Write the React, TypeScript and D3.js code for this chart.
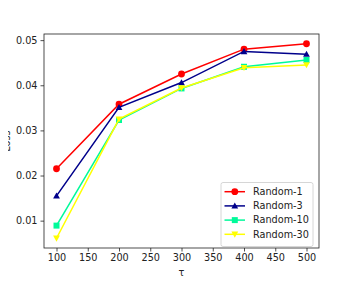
import React, { useEffect, useRef } from "react";
import * as d3 from "d3";

const taus = [100, 200, 300, 400, 500];
const random1 = [0.0215, 0.0358, 0.0425, 0.048, 0.0492];
const random3 = [0.0155, 0.0351, 0.0406, 0.0475, 0.0469];
const random10 = [0.0089, 0.0323, 0.0393, 0.0441, 0.0456];
const random30 = [0.0061, 0.0325, 0.0394, 0.0439, 0.0445];
const seriesNames = ["Random-1", "Random-3", "Random-10", "Random-30"];
const xTicks = [100, 150, 200, 250, 300, 350, 400, 450, 500];
const yTicks = [0.01, 0.02, 0.03, 0.04, 0.05];

const colors = ["#ff0000", "#00008b", "#00fa9a", "#ffff00"];
const shapes = ["circle", "triUp", "square", "triDown"];

function markerPath(shape: string, cx: number, cy: number) {
  const r = 3.4;
  if (shape === "circle") {
    return `M${cx - r},${cy}a${r},${r} 0 1,0 ${2 * r},0a${r},${r} 0 1,0 ${-2 * r},0Z`;
  }
  if (shape === "square") {
    const s = 3;
    return `M${cx - s},${cy - s}h${2 * s}v${2 * s}h${-2 * s}Z`;
  }
  if (shape === "triUp") {
    return `M${cx},${cy - r}L${cx + r},${cy + r * 0.8}L${cx - r},${cy + r * 0.8}Z`;
  }
  return `M${cx},${cy + r}L${cx + r},${cy - r * 0.8}L${cx - r},${cy - r * 0.8}Z`;
}

export default function App() {
  const svgRef = useRef<SVGSVGElement>(null);
  const width = 354;
  const height = 284;

  useEffect(() => {
    const svg = d3.select(svgRef.current);
    svg.selectAll("*").remove();

    const left = 44;
    const right = 319;
    const top = 34;
    const bottom = 248;
    const font = "DejaVu Sans, sans-serif";

    const x = d3.scaleLinear().domain([80, 520]).range([left, right]);
    const y = d3.scaleLinear().domain([0.00394, 0.05136]).range([bottom, top]);

    svg.append("rect").attr("width", width).attr("height", height).attr("fill", "#fff");

    const allSeries = [random1, random3, random10, random30];
    const plot = svg.append("g");
    const lineGen = d3
      .line<number>()
      .x((d, i) => x(taus[i]))
      .y((d) => y(d));

    allSeries.forEach((vals, si) => {
      plot
        .append("path")
        .attr("d", lineGen(vals))
        .attr("fill", "none")
        .attr("stroke", colors[si])
        .attr("stroke-width", 1.5);
      vals.forEach((v, i) => {
        plot
          .append("path")
          .attr("d", markerPath(shapes[si], x(taus[i]), y(v)))
          .attr("fill", colors[si]);
      });
    });

    // axes
    const xAxis = svg
      .append("g")
      .attr("transform", `translate(0,${bottom})`)
      .call(d3.axisBottom(x).tickValues(xTicks).tickSize(3.5).tickPadding(3).tickFormat(d3.format("d")));
    const yAxis = svg
      .append("g")
      .attr("transform", `translate(${left},0)`)
      .call(d3.axisLeft(y).tickValues(yTicks).tickSize(3.5).tickPadding(3).tickFormat(d3.format(".2f")));
    [xAxis, yAxis].forEach((a) => {
      a.select(".domain").remove();
      a.selectAll("text").attr("font-family", font).attr("font-size", 9.7).attr("fill", "#222");
      a.selectAll("line").attr("stroke", "#222").attr("stroke-width", 0.8);
    });

    svg
      .append("rect")
      .attr("x", left)
      .attr("y", top)
      .attr("width", right - left)
      .attr("height", bottom - top)
      .attr("fill", "none")
      .attr("stroke", "#222")
      .attr("stroke-width", 0.8);

    svg
      .append("text")
      .attr("x", (left + right) / 2)
      .attr("y", 276)
      .attr("text-anchor", "middle")
      .attr("font-family", font)
      .attr("font-size", 9.7)
      .attr("fill", "#222")
      .text("τ");
    svg
      .append("text")
      .attr("transform", `translate(10,${(top + bottom) / 2}) rotate(-90)`)
      .attr("text-anchor", "middle")
      .attr("font-family", font)
      .attr("font-size", 9.7)
      .attr("fill", "#222")
      .text("Loss");

    // legend
    const legend = svg.append("g");
    legend
      .append("rect")
      .attr("x", 221)
      .attr("y", 182.5)
      .attr("width", 92)
      .attr("height", 64)
      .attr("rx", 2)
      .attr("fill", "#fff")
      .attr("fill-opacity", 0.8)
      .attr("stroke", "#ccc")
      .attr("stroke-width", 0.8);
    seriesNames.forEach((name, i) => {
      const ly = 191.7 + i * 14.2;
      legend
        .append("line")
        .attr("x1", 224.5)
        .attr("x2", 245)
        .attr("y1", ly)
        .attr("y2", ly)
        .attr("stroke", colors[i])
        .attr("stroke-width", 1.5);
      legend.append("path").attr("d", markerPath(shapes[i], 234.8, ly)).attr("fill", colors[i]);
      legend
        .append("text")
        .attr("x", 253)
        .attr("y", ly)
        .attr("dy", "0.35em")
        .attr("font-family", font)
        .attr("font-size", 9.7)
        .attr("fill", "#222")
        .text(name);
    });
  }, []);

  return (
    <div style={{ margin: -8 }}>
      <svg ref={svgRef} width={width} height={height} style={{ display: "block" }} />
    </div>
  );
}
